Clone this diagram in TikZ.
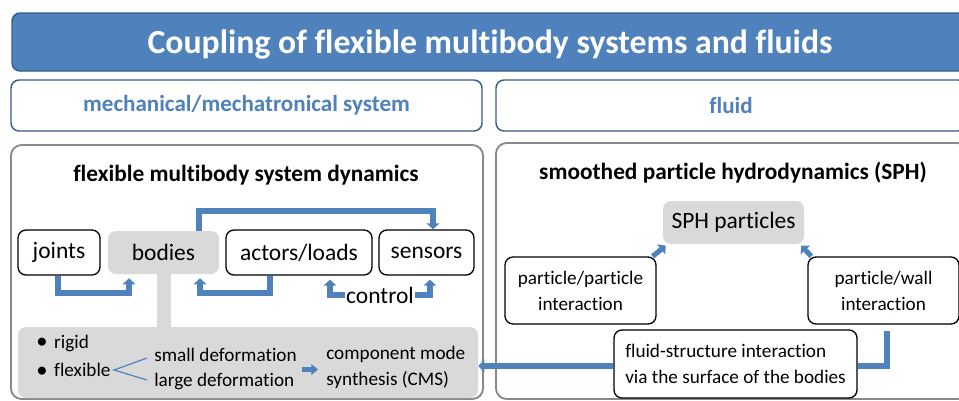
\documentclass[tikz,border=0pt]{standalone}
\usepackage{fontspec}
\setmainfont[Ligatures=CommonOff]{Carlito}
\usetikzlibrary{arrows.meta,calc}

\definecolor{fsblue}{RGB}{79,129,189}
\definecolor{fsedge}{RGB}{56,93,138}
\definecolor{fsgray}{RGB}{217,217,217}
\definecolor{fsframe}{RGB}{137,137,137}

\newcommand{\fsTitle}{\fontsize{25.3}{30}\selectfont\bfseries}
\newcommand{\fsHead}{\fontsize{17.3}{20}\selectfont\bfseries}
\newcommand{\fsPanel}{\fontsize{17.5}{21}\selectfont\bfseries}
\newcommand{\fsNode}{\fontsize{17.6}{21}\selectfont}
\newcommand{\fsSmall}{\fontsize{14.4}{19.5}\selectfont}
\newcommand{\fsBullet}{{\fontsize{17}{17}\selectfont\raisebox{-0.5pt}{\textbullet}}\hspace{5pt}}

\tikzset{
  headbox/.style={draw=fsedge, line width=1.1pt, rounded corners=6pt, inner sep=0pt},
  panel/.style={draw=fsframe, line width=1.4pt, rounded corners=8pt, inner sep=0pt},
  whitebox/.style={draw=black, line width=1pt, fill=white, rounded corners=6pt, inner sep=0pt, align=center},
  graybox/.style={fill=fsgray, rounded corners=6pt, inner sep=0pt, align=center},
  flow/.style={draw=fsblue, line width=4.5pt, -{Triangle[width=9.5pt,length=4.5pt]}},
  link/.style={draw=fsblue, line width=4.5pt},
  branch/.style={draw=fsblue, line width=0.9pt},
}

\begin{document}
\begin{tikzpicture}[x=0.75pt, y=-0.75pt]
    \useasboundingbox (0,0) rectangle (959,400);
    \clip (0,0) rectangle (959,400);

    % headers
    \node[headbox, fill=fsblue, text=white, font=\fsTitle, minimum width=717pt, minimum height=43.5pt, text height=20pt, text depth=3pt] (title) at (490,42) {Coupling of flexible multibody systems and fluids};
    \node[headbox, fill=white, text=fsblue, font=\fsHead, minimum width=353.25pt, minimum height=38.25pt] (mech) at (246.5,105.5) {mechanical/mechatronical system};
    \node[headbox, fill=white, text=fsblue, font=\fsHead, minimum width=352.5pt, minimum height=38.25pt] (fluid) at (731,105.5) {fluid};

    % panels
    \node[panel, minimum width=354pt, minimum height=190.5pt] (left) at (247,272) {};
    \node[panel, minimum width=354pt, minimum height=192pt] (right) at (732,271) {};
    \node[font=\fsPanel] (fmbs) at (246,175) {flexible multibody system dynamics};
    \node[font=\fsPanel] (sph) at (733,173) {smoothed particle hydrodynamics (SPH)};

    % multibody system
    \node[whitebox, font=\fsNode, minimum width=61.5pt, minimum height=33.75pt] (joints) at (59,252.5) {joints};
    \node[graybox, font=\fsNode, minimum width=83.25pt, minimum height=32.25pt] (bodies) at (163.5,252.5) {bodies};
    \node[whitebox, font=\fsNode, minimum width=109.5pt, minimum height=33.75pt] (actors) at (299,252.5) {actors/loads};
    \node[whitebox, font=\fsNode, minimum width=71.25pt, minimum height=33.75pt] (sensors) at (426.5,252.5) {sensors};
    \node[font=\fsNode, inner sep=1pt] (control) at (380,295) {control};

    \node[graybox, minimum width=345pt, minimum height=53.25pt] (deform) at (248,362.5) {};
    \draw[fsgray, line width=10.5pt] (bodies.south) -- (bodies.south |- deform.north);

    \node[font=\fsSmall, anchor=west, inner sep=0pt] (rigid) at (36,343) {\fsBullet rigid};
    \node[font=\fsSmall, anchor=west, inner sep=0pt] (flexible) at (36,370) {\fsBullet flexible};
    \node[font=\fsSmall, anchor=west, inner sep=0pt] (small) at (154,355) {small deformation};
    \node[font=\fsSmall, anchor=west, inner sep=0pt] (large) at (154,381) {large deformation};
    \node[font=\fsSmall, anchor=west, align=left, inner sep=0pt] (cms) at (326,367.5) {component mode\\synthesis (CMS)};

    \coordinate (fork) at (114,370);
    \draw[branch] (small.west) ++(-7,3) -- (fork) -- ($(large.west)+(-7,-1)$);
    \draw[draw=fsblue, line width=3.8pt, -{Triangle[width=8pt,length=5pt]}] ($(cms.west)+(-24,2)$) -- ($(cms.west)+(-8,2)$);

    \coordinate (loop) at (433,211);
    \coordinate (jb) at (129,293);
    \coordinate (ab) at (200,293);
    \draw[flow] ([xshift=26.6pt]bodies.north) |- (loop) -- (loop |- sensors.north);
    \draw[flow] ([xshift=-1pt]joints.south) |- (jb) -- ([yshift=-3pt]jb |- bodies.south);
    \draw[flow] ([xshift=-22pt]actors.south) |- (ab) -- ([yshift=-3pt]ab |- bodies.south);
    \draw[flow] (control.west) -| ([xshift=23.25pt,yshift=-3pt]actors.south);
    \draw[flow] (control.east) -| ([xshift=2.6pt,yshift=-3pt]sensors.south);

    % fluid
    \node[graybox, font=\fsNode, minimum width=105.75pt, minimum height=32.25pt] (particles) at (733.5,222.5) {SPH particles};
    \node[whitebox, font=\fsSmall, minimum width=113.25pt, minimum height=50.25pt] (pp) at (580.5,290.5) {particle/particle\\interaction};
    \node[whitebox, font=\fsSmall, minimum width=113.25pt, minimum height=50.25pt] (pw) at (883.5,290.5) {particle/wall\\interaction};
    \node[whitebox, font=\fsSmall, align=left, minimum width=182.25pt, minimum height=51pt] (fsi) at (735.5,364) {fluid-structure interaction\\via the surface of the bodies};

    \draw[flow, line width=3.8pt] ([xshift=-3pt]pp.north east) -- ([xshift=2.25pt,yshift=-1pt]particles.south west);
    \draw[flow, line width=3.8pt] ([xshift=3pt]pw.north west) -- ([xshift=-2.25pt,yshift=-1pt]particles.south east);
    \draw[link] ([xshift=2.25pt,yshift=-4.5pt]pw.south) |- ([yshift=-1.5pt]fsi.east);
    \draw[flow] ([yshift=-1.5pt]fsi.west) -- ([yshift=-1.5pt]fsi.west -| deform.east);
\end{tikzpicture}
\end{document}
